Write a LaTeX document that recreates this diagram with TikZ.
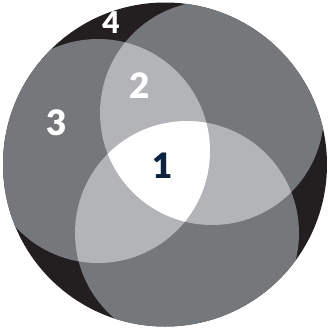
\documentclass[tikz,border=0pt]{standalone}
\usepackage{fontspec}
\setmainfont{Lato}[BoldFont={Lato Black}]
\begin{document}
\begin{tikzpicture}[x=1pt,y=-1pt,
  lab/.style={inner sep=0pt,text=white,font=\fontsize{35}{35}\selectfont\bfseries}]
\definecolor{ink}{HTML}{231F20}
\definecolor{midgray}{HTML}{75787B}
\definecolor{lightgray}{HTML}{B2B4B7}
\definecolor{navy}{HTML}{0C2340}
\useasboundingbox (0,0) rectangle (328,330);
\def\outerc{(165,164.5) circle[radius=162pt]}
\def\ca{(212,113) circle[radius=112pt]}
\def\cb{(98,151) circle[radius=112pt]}
\def\cc{(187,233) circle[radius=112pt]}
\fill[ink] \outerc;
\begin{scope}
  \clip \outerc;
  \fill[midgray] \ca;
  \fill[midgray] \cb;
  \fill[midgray] \cc;
  \begin{scope}\clip \ca; \fill[lightgray] \cb; \fill[lightgray] \cc; \end{scope}
  \begin{scope}\clip \cb; \fill[lightgray] \cc; \end{scope}
  \begin{scope}\clip \ca; \clip \cb; \fill[white] \cc; \end{scope}
\end{scope}
\node[lab,font=\fontsize{30}{30}\selectfont\bfseries] (n4) at (111,23) {4};
\node[lab] (n3) at (57,123) {3};
\node[lab] (n2) at (140,86) {2};
\node[lab,text=navy] (n1) at (163,166) {1};
\end{tikzpicture}
\end{document}
